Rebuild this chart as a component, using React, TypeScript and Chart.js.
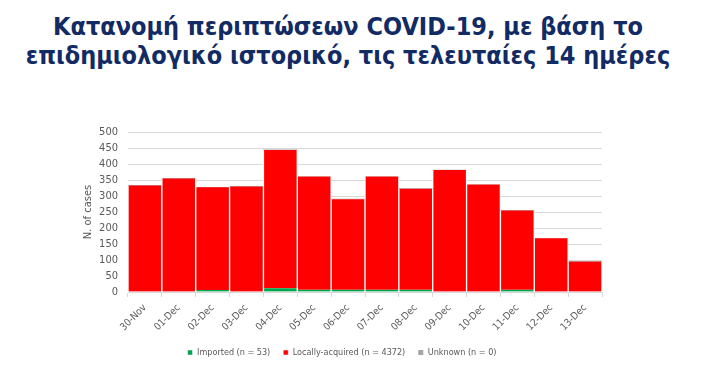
import React, { useEffect, useRef } from "react";
import { Chart, registerables } from "chart.js";

Chart.register(...registerables);

const categories = ["30-Nov", "01-Dec", "02-Dec", "03-Dec", "04-Dec", "05-Dec", "06-Dec", "07-Dec", "08-Dec", "09-Dec", "10-Dec", "11-Dec", "12-Dec", "13-Dec"];
const imported = [0, 0, 6, 0, 12, 7, 7, 7, 7, 0, 0, 7, 0, 0];
const locallyAcquired = [333, 355, 321, 330, 432, 354, 283, 354, 316, 381, 336, 248, 168, 95];
const unknown = [0, 0, 0, 0, 0, 0, 0, 0, 0, 0, 0, 0, 0, 0];
const legendLabels = ["Imported (n = 53)", "Locally-acquired (n = 4372)", "Unknown (n = 0)"];
const titleLines = ["Κατανομή περιπτώσεων COVID-19, με βάση το", "επιδημιολογικό ιστορικό, τις τελευταίες 14 ημέρες"];

const FONT = "'DejaVu Sans Condensed', 'Liberation Sans', sans-serif";

export default function App() {
  const ref = useRef<HTMLCanvasElement | null>(null);
  useEffect(() => {
    document.body.style.margin = "0";
    const ctx = ref.current!;
    const chart = new Chart(ctx, {
      type: "bar",
      data: {
        labels: categories,
        datasets: [
          { label: legendLabels[0], data: imported, backgroundColor: "#00A550", borderColor: "#ffffff", borderWidth: { left: 1, right: 1 } as any, borderSkipped: false },
          { label: legendLabels[1], data: locallyAcquired, backgroundColor: "#FF0000", borderColor: "#ffffff", borderWidth: { left: 1, right: 1 } as any, borderSkipped: false },
          { label: legendLabels[2], data: unknown, backgroundColor: "#A5A5A5", borderColor: "#ffffff", borderWidth: 0 },
        ],
      },
      options: {
        animation: false,
        responsive: false,
        layout: { padding: { left: 82, right: 114, top: 132, bottom: 2 } },
        datasets: { bar: { categoryPercentage: 1, barPercentage: 1 } },
        plugins: {
          title: { display: false },
          tooltip: { enabled: false },
          legend: {
            position: "bottom",
            labels: {
              boxWidth: 5,
              boxHeight: 5,
              padding: 13,
              color: "#595959",
              font: { family: FONT, size: 9 },
            },
          },
        },
        scales: {
          x: {
            stacked: true,
            afterFit: (s: any) => { s.height = 43; },
            grid: { offset: true, drawOnChartArea: false, color: "#D9D9D9", tickLength: 5 },
            border: { color: "#D9D9D9" },
            ticks: { color: "#595959", minRotation: 45, maxRotation: 45, autoSkip: false, font: { family: FONT, size: 10 }, padding: 5 },
          },
          y: {
            stacked: true,
            min: 0,
            max: 500,
            afterFit: (s: any) => { s.width = 46; },
            grid: { color: "#D9D9D9", drawTicks: false },
            border: { display: false },
            ticks: { stepSize: 50, autoSkip: false, color: "#595959", padding: 10, font: { family: FONT, size: 11 } },
            title: { display: true, text: "N. of cases", color: "#595959", font: { family: FONT, size: 11 }, padding: 0 },
          },
        },
      },
    });
    return () => chart.destroy();
  }, []);

  return (
    <div style={{ position: "relative", width: 716, height: 369, background: "#fff", overflow: "hidden" }}>
      <div
        style={{
          position: "absolute",
          left: -10,
          top: 12,
          width: 716,
          textAlign: "center",
          color: "#122B64",
          fontFamily: FONT,
          fontWeight: "bold",
          fontSize: 25,
          lineHeight: "29px",
        }}
      >
        {titleLines.map((l, i) => (
          <div key={i}>{l}</div>
        ))}
      </div>
      <canvas ref={ref} width={716} height={369} style={{ position: "absolute", left: 0, top: 0 }} />
    </div>
  );
}
